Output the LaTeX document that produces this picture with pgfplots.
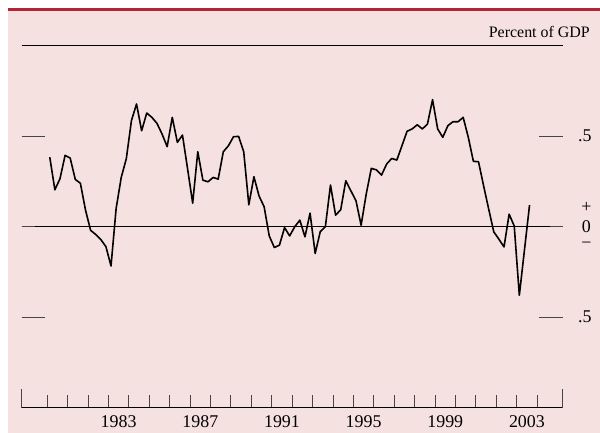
\documentclass[border=0pt]{standalone}
\usepackage{pgfplots}
\pgfplotsset{compat=1.18}
\usepackage{fontspec}
\setmainfont{Liberation Serif}
\definecolor{bgpink}{RGB}{245,225,224}
\definecolor{topred}{RGB}{180,36,56}
\definecolor{tickgray}{RGB}{70,70,70}
\begin{document}
\begin{tikzpicture}[x=1bp,y=1bp]
\fill[white] (0,0) rectangle (600,433);
\fill[bgpink] (8,0) rectangle (600,423);
\fill[topred] (8,422) rectangle (600,425);
\node[anchor=base east, font=\fontsize{16}{18}\selectfont, inner sep=0] at (590,395) {Percent of GDP};
\begin{axis}[at={(21.7bp,25.3bp)}, anchor=south west, scale only axis,
  width=541bp, height=362bp,
  xmin=1978.75, xmax=2005.25, ymin=-1, ymax=1,
  separate axis lines,
  x axis line style={black, line width=0.9bp},
  y axis line style={draw=none},
  xtick={1980,...,2004},
  x tick label as interval,
  xticklabels={,,,1983,,,,1987,,,,1991,,,,1995,,,,1999,,,,2003},
  xtick pos=left, xtick align=inside,
  extra x ticks={1978.75,2005.25}, extra x tick labels={},
  extra x tick style={major tick length=19bp},
  major tick length=13bp, minor tick length=23.5bp,
  ytick={-0.5,0,0.5},
  yticklabels={.5,{\begin{tabular}{@{}c@{}}+\\0\\[-4bp]−\end{tabular}},.5},
  minor ytick={-0.5,0.5},
  ytick pos=both, yticklabel pos=right, ytick align=inside,
  extra y ticks={0}, extra y tick labels={},
  extra y tick style={grid=major, major grid style={black, line width=0.9bp}},
  tick style={tickgray, line width=0.9bp},
  xticklabel style={anchor=north, inner sep=0, yshift=-8bp, font=\fontsize{18}{20}\selectfont},
  yticklabel style={anchor=east, inner sep=0, xshift=29bp, font=\fontsize{18}{20}\selectfont},
  clip=false,
]
\addplot[black, line width=1.6bp, line join=round] table {
1980.125 0.384
1980.375 0.204
1980.625 0.265
1980.875 0.394
1981.125 0.379
1981.375 0.261
1981.625 0.240
1981.875 0.092
1982.125 -0.020
1982.375 -0.043
1982.625 -0.071
1982.875 -0.110
1983.125 -0.217
1983.375 0.100
1983.625 0.272
1983.875 0.376
1984.125 0.586
1984.375 0.678
1984.625 0.530
1984.875 0.628
1985.125 0.604
1985.375 0.571
1985.625 0.512
1985.875 0.442
1986.125 0.604
1986.375 0.466
1986.625 0.506
1986.875 0.320
1987.125 0.130
1987.375 0.414
1987.625 0.257
1987.875 0.248
1988.125 0.272
1988.375 0.263
1988.625 0.414
1988.875 0.447
1989.125 0.497
1989.375 0.499
1989.625 0.414
1989.875 0.121
1990.125 0.276
1990.375 0.170
1990.625 0.110
1990.875 -0.051
1991.125 -0.115
1991.375 -0.102
1991.625 -0.005
1991.875 -0.051
1992.125 0.000
1992.375 0.036
1992.625 -0.056
1992.875 0.075
1993.125 -0.148
1993.375 -0.027
1993.625 0.000
1993.875 0.230
1994.125 0.064
1994.375 0.093
1994.625 0.254
1994.875 0.198
1995.125 0.143
1995.375 0.008
1995.625 0.180
1995.875 0.322
1996.125 0.314
1996.375 0.285
1996.625 0.346
1996.875 0.377
1997.125 0.368
1997.375 0.447
1997.625 0.527
1997.875 0.540
1998.125 0.563
1998.375 0.540
1998.625 0.567
1998.875 0.702
1999.125 0.540
1999.375 0.494
1999.625 0.558
1999.875 0.580
2000.125 0.580
2000.375 0.604
2000.625 0.494
2000.875 0.361
2001.125 0.359
2001.375 0.226
2001.625 0.097
2001.875 -0.029
2002.125 -0.069
2002.375 -0.112
2002.625 0.069
2002.875 0.004
2003.125 -0.379
2003.375 -0.130
2003.625 0.119
};
\end{axis}
\pgfresetboundingbox
\useasboundingbox (0,0) rectangle (600,433);
\end{tikzpicture}
\end{document}
